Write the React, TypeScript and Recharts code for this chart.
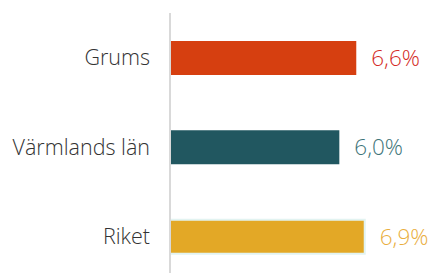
import React from "react";
import { BarChart, Bar, XAxis, YAxis, Cell, LabelList } from "recharts";

const categories = ["Grums", "Värmlands län", "Riket"];
const values = [6.6, 6.0, 6.9];
const valueLabels = ["6,6%", "6,0%", "6,9%"];
const barColors = ["#D63F10", "#215760", "#E3A826"];
const barStrokes = ["none", "none", "#E2F3F1"];
const labelColors = ["#D42B26", "#3E7479", "#E9AE3E"];

const data = categories.map((c, i) => ({
  name: c,
  value: values[i],
  label: valueLabels[i],
  idx: i,
}));

const FONT = "'Open Sans', sans-serif";

const ValueLabel = (props: any) => {
  const { x, y, width, height, index } = props;
  return (
    <text
      x={x + width + 15}
      y={y + height / 2}
      dy="0.35em"
      fill={labelColors[index]}
      fontSize={22.5}
      fontFamily={FONT}
      fontWeight={300}
      textAnchor="start"
    >
      {valueLabels[index]}
    </text>
  );
};

const CatTick = (props: any) => {
  const { x, y, payload } = props;
  return (
    <text
      x={x}
      y={y}
      dy="0.35em"
      fill="#333333"
      fontSize={21.5}
      fontFamily={FONT}
      fontWeight={300}
      textAnchor="end"
    >
      {payload.value}
    </text>
  );
};

export default function App() {
  return (
    <div
      style={{
        position: "absolute",
        top: 0,
        left: 0,
        width: 432,
        height: 273,
        overflow: "hidden",
        background: "#ffffff",
      }}
    >
      <BarChart
        width={432}
        height={281}
        data={data}
        layout="vertical"
        margin={{ top: 13, right: 8, bottom: 0, left: 0 }}
      >
        <XAxis type="number" domain={[0, 9]} hide />
        <YAxis
          type="category"
          dataKey="name"
          width={170}
          axisLine={{ stroke: "#D9D9D9", strokeWidth: 2 }}
          tickLine={false}
          tickSize={0}
          tickMargin={20}
          tick={<CatTick />}
        />
        <Bar dataKey="value" barSize={34} isAnimationActive={false}>
          {data.map((d, i) => (
            <Cell
              key={d.name}
              fill={barColors[i]}
              stroke={barStrokes[i]}
              strokeWidth={barStrokes[i] === "none" ? 0 : 2}
            />
          ))}
          <LabelList dataKey="label" content={<ValueLabel />} />
        </Bar>
      </BarChart>
    </div>
  );
}
